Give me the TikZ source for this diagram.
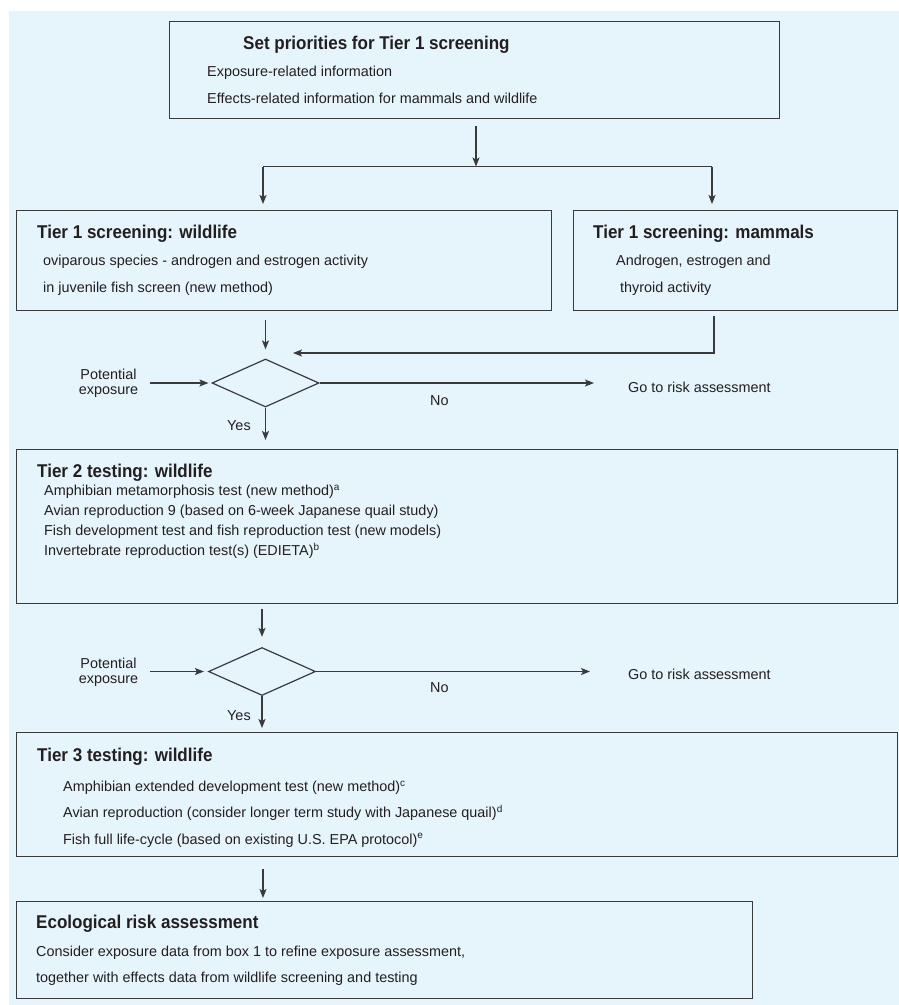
\documentclass[tikz,border=0pt]{standalone}
\usepackage{fontspec}
\setmainfont{Liberation Sans}
\newfontfamily\titlefont[FakeStretch=0.92]{Liberation Sans}
\usetikzlibrary{shapes.geometric, arrows.meta}
\definecolor{bg}{HTML}{E6F4FC}
\definecolor{ink}{HTML}{231F20}
\definecolor{edge}{HTML}{3A3A3C}
\tikzset{
  box/.style={draw=edge, line width=1.3pt, fill=bg, anchor=north west, inner sep=0pt},
  body/.style={anchor=base west, inner sep=0pt, text=ink, font=\fontsize{14.4}{16}\selectfont},
  ttl/.style={anchor=base west, inner sep=0pt, text=ink, font=\titlefont\bfseries\fontsize{18.5}{20}\selectfont},
  lbl/.style={inner sep=0pt, text=ink, font=\fontsize{14.4}{15}\selectfont, align=center},
  dec/.style={diamond, draw=edge, line width=1.2pt, minimum width=107pt, minimum height=48pt, inner sep=0pt},
  arr/.style={draw=edge, line width=1.2pt, -{Stealth[length=9pt, width=7pt, inset=2pt]}},
  ln/.style={draw=edge, line width=1.2pt},
}
\begin{document}
\begin{tikzpicture}[x=1pt, y=-1pt]
\useasboundingbox (0,0) rectangle (899,1005);
\fill[white] (0,0) rectangle (899,1005);
\fill[bg] (9,11) rectangle (899,1005);

% boxes
\node[box, minimum width=610pt, minimum height=97pt] (b1) at (169,21) {};
\node[box, minimum width=535pt, minimum height=100pt] (t1w) at (16,210) {};
\node[box, minimum width=324pt, minimum height=100pt] (t1m) at (573,210) {};
\node[box, minimum width=881pt, minimum height=154pt] (t2) at (16,449) {};
\node[box, minimum width=881pt, minimum height=124pt] (t3) at (16,732) {};
\node[box, minimum width=736pt, minimum height=97pt] (eco) at (16,901) {};

% box texts
\node[ttl] (b1t) at (243,49.5) {Set priorities for Tier 1 screening};
\node[body] (b1a) at (207,76) {Exposure-related information};
\node[body] (b1b) at (207,103) {Effects-related information for mammals and wildlife};

\node[ttl] (t1wt) at (37,238) {Tier 1 screening: wildlife};
\node[body] (t1wa) at (43,265) {oviparous species - androgen and estrogen activity};
\node[body] (t1wb) at (43,292) {in juvenile fish screen (new method)};

\node[ttl] (t1mt) at (593,238) {Tier 1 screening: mammals};
\node[body] (t1ma) at (616,265) {Androgen, estrogen and};
\node[body] (t1mb) at (620,292) {thyroid activity};

\node[ttl] (t2t) at (37,477.5) {Tier 2 testing: wildlife};
\node[body] (t2a) at (44,495.5) {Amphibian metamorphosis test (new method)\textsuperscript{a}};
\node[body] (t2b) at (44,515.5) {Avian reproduction 9 (based on 6-week Japanese quail study)};
\node[body] (t2c) at (44,535.5) {Fish development test and fish reproduction test (new models)};
\node[body] (t2d) at (44,555.5) {Invertebrate reproduction test(s) (EDIETA)\textsuperscript{b}};

\node[ttl] (t3t) at (37,761) {Tier 3 testing: wildlife};
\node[body] (t3a) at (63,791.5) {Amphibian extended development test (new method)\textsuperscript{c}};
\node[body] (t3b) at (63,817.5) {Avian reproduction (consider longer term study with Japanese quail)\textsuperscript{d}};
\node[body] (t3c) at (63,844) {Fish full life-cycle (based on existing U.S. EPA protocol)\textsuperscript{e}};

\node[ttl] (ecot) at (36,928.5) {Ecological risk assessment};
\node[body] (ecoa) at (36,956) {Consider exposure data from box 1 to refine exposure assessment,};
\node[body] (ecob) at (36,982.5) {together with effects data from wildlife screening and testing};

% decision 1
\node[dec] (d1) at (265.5,383) {};
\node[lbl] (pe1) at (108.5,383.5) {Potential\\exposure};
\node[body] (go1) at (628,392.5) {Go to risk assessment};
\node[body] (no1) at (430,405) {No};
\node[body] (yes1) at (227,430) {Yes};

% decision 2
\node[dec] (d2) at (262,671.5) {};
\node[lbl] (pe2) at (108.5,672) {Potential\\exposure};
\node[body] (go2) at (628,679) {Go to risk assessment};
\node[body] (no2) at (430,692.5) {No};
\node[body] (yes2) at (227,720) {Yes};

% connectors
\coordinate (split) at (476,166.5);
\coordinate (jl) at (263,166.5);
\coordinate (jr) at (712,166.5);
\draw[arr, shorten <=7pt] (split |- b1.south) -- (split);
\draw[ln] (jl) -- (jr);
\draw[arr, shorten >=6pt] (jl) -- (jl |- t1w.north);
\draw[arr, shorten >=6pt] (jr) -- (jr |- t1m.north);

\draw[arr, shorten <=9pt, shorten >=9pt] (d1 |- t1w.south) -- (d1.north);
\coordinate (m1) at (714,353);
\coordinate (m1end) at (293,353);
\draw[arr, shorten <=5pt] (m1 |- t1m.south) -- (m1) -- (m1end);
\draw[arr, shorten <=12pt, shorten >=3pt] (pe1.east |- d1.west) -- (d1.west);
\draw[arr, shorten >=34pt] (d1.east) -- (d1.east -| go1.west);
\draw[arr, shorten >=9pt] (d1.south) -- (d1.south |- t2.north);

\draw[arr, shorten <=5pt, shorten >=10pt] (d2 |- t2.south) -- (d2.north);
\draw[arr, shorten <=12pt, shorten >=4pt] (pe2.east |- d2.west) -- (d2.west);
\draw[arr, shorten >=38pt] (d2.east) -- (d2.east -| go2.west);
\draw[arr, shorten >=4pt] (d2.south) -- (d2.south |- t3.north);

\draw[arr, shorten <=12pt, shorten >=3pt] (t3.south -| jl) -- (eco.north -| jl);
\end{tikzpicture}
\end{document}
